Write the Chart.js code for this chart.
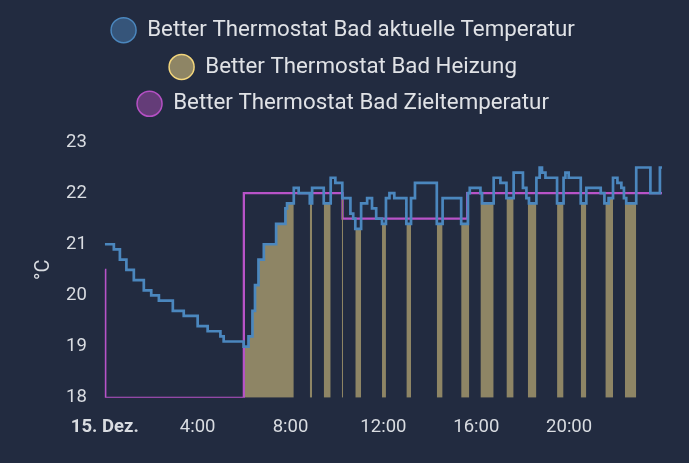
<!DOCTYPE html>
<html>
<head>
<meta charset="utf-8">
<script src="https://cdn.jsdelivr.net/npm/chart.js@4.4.1/dist/chart.umd.min.js"></script>
<style>
  html, body { margin: 0; padding: 0; background: #222b40; }
  #wrap { width: 689px; height: 463px; }
</style>
</head>
<body>
<div id="wrap"><canvas id="thermoChart"></canvas></div>
<script>
// series names as shown in the legend
const seriesNames = [
  "Better Thermostat Bad aktuelle Temperatur",
  "Better Thermostat Bad Heizung",
  "Better Thermostat Bad Zieltemperatur",
];

// x ticks every 4 hours, starting at midnight
const xTickLabels = ["15. Dez.", "4:00", "8:00", "12:00", "16:00", "20:00"];

// current temperature: hour of change -> new value (held until next change)
const tempHours = [
  0.00, 0.39, 0.65, 0.93, 1.25, 1.68, 2.00, 2.33, 2.93, 3.40,
  4.00, 4.43, 4.98, 5.12, 5.98, 6.19, 6.36, 6.47, 6.62, 6.85,
  7.38, 7.78, 7.85, 8.14, 8.35, 8.83, 8.93, 9.43, 9.73, 9.93,
  10.23, 10.58, 10.70, 10.79, 11.04, 11.30, 11.51, 11.69, 11.94, 12.11,
  12.26, 12.47, 12.99, 13.19, 13.36, 14.30, 14.55, 15.35, 15.64, 15.72,
  16.18, 16.25, 16.75, 17.04, 17.30, 17.61, 18.01, 18.16, 18.27, 18.59,
  18.73, 18.83, 18.98, 19.48, 19.76, 19.84, 19.98, 20.50, 20.74, 21.36,
  21.52, 21.70, 21.89, 22.08, 22.25, 22.36, 22.46, 22.89, 23.50, 23.91,
  24.00,
];
const tempValues = [
  21.0, 20.9, 20.7, 20.5, 20.3, 20.1, 20.0, 19.9, 19.7, 19.6,
  19.4, 19.3, 19.2, 19.1, 19.0, 19.2, 19.7, 20.2, 20.7, 21.0,
  21.4, 21.7, 21.8, 22.1, 22.0, 21.8, 22.1, 21.8, 22.3, 22.2,
  21.9, 21.6, 21.5, 21.3, 21.8, 21.9, 21.7, 21.5, 21.4, 21.9,
  22.0, 21.9, 21.4, 21.9, 22.2, 21.4, 21.9, 21.4, 22.0, 22.1,
  22.0, 21.8, 22.3, 22.2, 21.9, 22.4, 22.1, 21.9, 21.8, 22.3,
  22.5, 22.4, 22.3, 21.8, 22.3, 22.4, 22.3, 21.8, 22.1, 22.0,
  21.8, 21.9, 22.3, 22.2, 22.1, 21.9, 21.8, 22.5, 22.0, 22.5,
  22.5,
];

// target temperature
const targetHours = [0.0, 0.02, 5.99, 10.24, 15.61, 24.0];
const targetValues = [20.5, 18.0, 22.0, 21.5, 22.0, 22.0];

// heating active periods (hours)
const heatStart = [6.03, 8.83, 9.43, 10.21, 10.79, 11.94, 12.99, 14.30, 15.35, 16.18, 17.30, 18.22, 19.48, 20.50, 21.56, 22.40];
const heatEnd   = [8.14, 8.93, 9.73, 10.26, 11.04, 12.11, 13.19, 14.55, 15.70, 16.75, 17.61, 18.59, 19.76, 20.74, 21.89, 22.89];

// temperature value holding at hour h (strict = value just before h)
const tempAt = (h, strict) => {
  let v = tempValues[0];
  for (let i = 0; i < tempHours.length; i++) {
    if (strict ? tempHours[i] < h : tempHours[i] <= h) v = tempValues[i];
  }
  return v;
};

const tempPoints = tempHours.map((h, i) => ({ x: h, y: tempValues[i] }));
const targetPoints = targetHours.map((h, i) => ({ x: h, y: targetValues[i] }));

// heating area follows the current temperature while heating is on
const heatPoints = [];
heatStart.forEach((s, k) => {
  const e = heatEnd[k];
  heatPoints.push({ x: s, y: tempAt(s, false) });
  tempHours.forEach((h, i) => {
    if (h > s && h < e) heatPoints.push({ x: h, y: tempValues[i] });
  });
  heatPoints.push({ x: e, y: tempAt(e, true) });
  heatPoints.push({ x: e, y: null });
});

const textColor = "#d9dce1";
const legendStyles = [
  { fill: "#36557a", stroke: "#4b87be" },
  { fill: "#8e8565", stroke: "#f3d67c" },
  { fill: "#643c78", stroke: "#b550c4" },
];

// extra space between the legend and the plot
const legendMargin = {
  id: "legendMargin",
  beforeInit(chart) {
    if (!chart.legend) return;
    const fit = chart.legend.fit;
    chart.legend.fit = function () {
      fit.bind(chart.legend)();
      this.height += 17;
    };
  },
};

const ctx = document.getElementById("thermoChart").getContext("2d");

new Chart(ctx, {
  type: "line",
  plugins: [legendMargin],
  data: {
    datasets: [
      {
        label: seriesNames[0],
        data: tempPoints,
        borderColor: "#4b87be",
        borderWidth: 2.7,
        stepped: true,
        pointRadius: 0,
        fill: false,
      },
      {
        label: seriesNames[1],
        data: heatPoints,
        borderColor: "#8e8565",
        backgroundColor: "#8e8565",
        borderWidth: 0,
        stepped: true,
        pointRadius: 0,
        fill: "start",
        spanGaps: false,
      },
      {
        label: seriesNames[2],
        data: targetPoints,
        borderColor: "#b853c8",
        borderWidth: 2.3,
        stepped: true,
        pointRadius: 0,
        fill: false,
      },
    ],
  },
  options: {
    responsive: true,
    maintainAspectRatio: false,
    animation: false,
    devicePixelRatio: 1,
    layout: { padding: { top: 4.5, left: 24, right: 27, bottom: 7 } },
    plugins: {
      tooltip: { enabled: false },
      legend: {
        position: "top",
        labels: {
          usePointStyle: true,
          pointStyleWidth: 25,
          boxHeight: 17.7,
          padding: 14.5,
          color: "#e0e2e6",
          font: { family: "Roboto", size: 22.3 },
          generateLabels: (chart) =>
            chart.data.datasets.map((ds, i) => ({
              text: ds.label,
              fillStyle: legendStyles[i].fill,
              strokeStyle: legendStyles[i].stroke,
              lineWidth: 1.5,
              pointStyle: "circle",
              fontColor: "#e0e2e6",
              datasetIndex: i,
              hidden: false,
            })),
        },
      },
    },
    scales: {
      x: {
        type: "linear",
        min: 0,
        max: 24,
        grid: { display: false, drawTicks: false },
        border: { display: false },
        ticks: {
          stepSize: 4,
          autoSkip: false,
          maxRotation: 0,
          padding: 18,
          color: textColor,
          font: (c) => ({ family: "Roboto", size: 18.5, weight: c.index === 0 ? "bold" : "normal" }),
          callback: (value) => xTickLabels[value / 4] ?? null,
        },
      },
      y: {
        min: 18,
        max: 23,
        grid: { display: false, drawTicks: true, tickLength: 9 },
        border: { display: false },
        ticks: {
          stepSize: 1,
          padding: 9,
          color: textColor,
          font: { family: "Roboto", size: 18.5 },
        },
        title: {
          display: true,
          text: "°C",
          color: textColor,
          font: { family: "Roboto", size: 20 },
          padding: { top: 8, bottom: 1 },
        },
      },
    },
  },
});
</script>
</body>
</html>
